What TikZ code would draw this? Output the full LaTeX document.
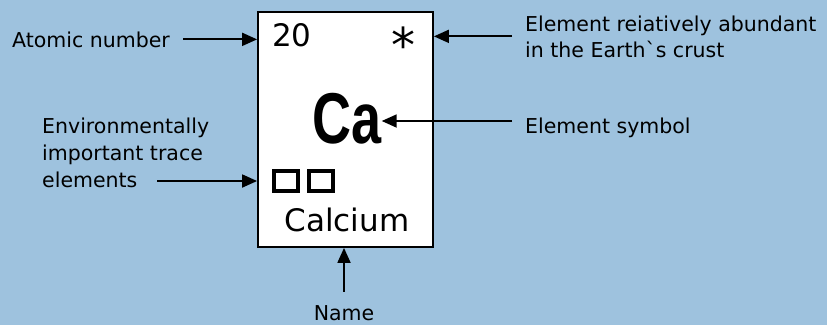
\documentclass[tikz,border=0pt]{standalone}
\usepackage{fontspec}
\setmainfont{DejaVu Sans}
\newfontfamily\symfont[FakeStretch=0.75]{Liberation Sans}
\usetikzlibrary{arrows.meta,positioning}
\definecolor{skyback}{RGB}{158,194,222}

\tikzset{
    lbl/.style={font=\fontsize{20.5}{26}\selectfont, inner sep=0pt, align=left},
    cellbox/.style={draw, line width=1.8pt, fill=white, minimum width=175pt, minimum height=235pt, inner sep=0pt},
    big/.style={font=\fontsize{31}{31}\selectfont, inner sep=0pt},
    flag/.style={draw, line width=4pt, minimum width=24pt, minimum height=20pt, inner sep=0pt},
    flow/.style={-{Triangle[length=15pt,width=13pt]}, line width=1.8pt},
}

\begin{document}
\begin{tikzpicture}[x=1pt, y=-1pt]
    \fill[skyback] (0,0) rectangle (827,325);
    \useasboundingbox (0,0) rectangle (827,325);
    % element cell
    \node[cellbox] (cell) at (345.5,129.5) {};
    \node[big] (num) at (292,35) {20};
    \node[font=\fontsize{48}{48}\selectfont, inner sep=0pt, anchor=base] (star) at (403,62) {*};
    \node[font=\symfont\bfseries\fontsize{72}{72}\selectfont, inner sep=0pt] (casym) at (347,119) {Ca};
    \node[flag] (sqa) at (286,181) {};
    \node[flag, right=7pt of sqa] (sqb) {};
    \node[big] (elname) at (347,220) {Calcium};
    % labels
    \node[lbl, anchor=base west] (atomic) at (12,47) {Atomic number};
    \node[lbl, anchor=base west, font=\fontsize{20.5}{27}\selectfont] (trace) at (42,187) {Environmentally\\important trace\\elements};
    \node[lbl, anchor=base west] (abund) at (525,57) {Element reiatively abundant\\in the Earth\textasciigrave s crust};
    \node[lbl, anchor=base west] (symlbl) at (525,133) {Element symbol};
    \node[lbl, anchor=base] (name) at (344,320) {Name};
    \coordinate (tracetail) at (157,181);
    % arrows
    \draw[flow] ([xshift=13pt]atomic.east) -- (atomic.east -| cell.west);
    \draw[flow] (tracetail) -- (tracetail -| cell.west);
    \draw[flow] ([xshift=-13pt]abund.west) -- (abund.west -| cell.east);
    \draw[flow] ([xshift=-13pt,yshift=-2pt]symlbl.west |- casym.east) -- ([yshift=-2pt]casym.east);
    \draw[flow] ([yshift=13pt]name.north) -- (cell.south -| name.north);
\end{tikzpicture}
\end{document}
